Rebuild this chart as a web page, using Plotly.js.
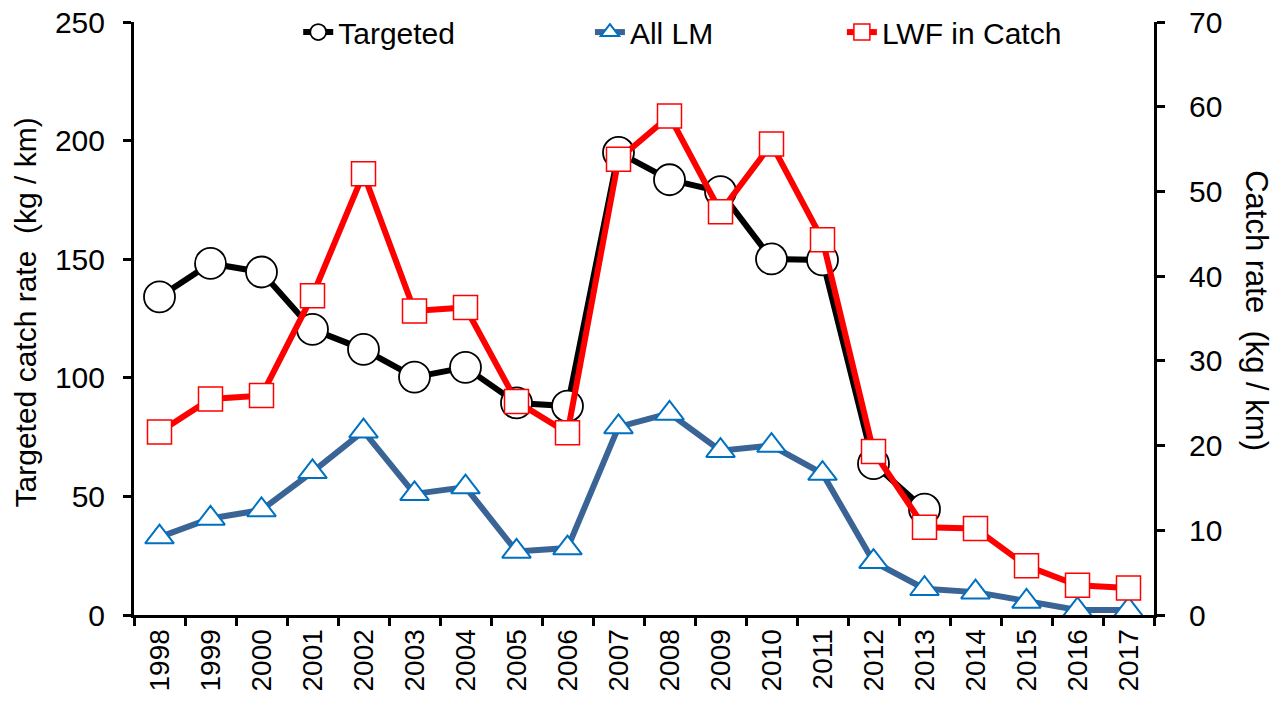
<!DOCTYPE html>
<html>
<head>
<meta charset="utf-8">
<script src="https://cdn.plot.ly/plotly-3.0.1.min.js"></script>
<style>html,body{margin:0;padding:0;background:#fff;}#chart{width:1283px;height:706px;}</style>
</head>
<body>
<div id="chart"></div>
<script>
const years = ["1998","1999","2000","2001","2002","2003","2004","2005","2006","2007","2008","2009","2010","2011","2012","2013","2014","2015","2016","2017"];
const targeted = [134.1,148.2,144.6,120.4,112.0,100.3,104.4,89.4,88.1,195.0,183.5,178.5,150.1,149.7,63.8,44.6,null,null,null,null];
const allLM = [9.2,11.4,12.4,16.9,21.7,14.3,15.1,7.5,7.9,22.2,23.8,19.4,20.0,16.7,6.3,3.1,2.7,1.6,0.6,0.6];
const lwfInCatch = [21.6,25.5,25.9,37.7,52.1,35.9,36.3,25.2,21.5,53.8,58.9,47.6,55.6,44.3,19.3,10.35,10.2,5.8,3.5,3.2];

const FONT = "Liberation Sans, Arial, sans-serif";

const traces = [
  {x: years, y: targeted, name: "Targeted", type: "scatter", mode: "lines+markers",
   yaxis: "y", legend: "legend", cliponaxis: false,
   line: {color: "#000000", width: 6},
   marker: {symbol: "circle", size: 31, color: "#ffffff", line: {color: "#000000", width: 1.8}}},
  {x: years, y: allLM, name: "All LM", type: "scatter", mode: "lines+markers",
   yaxis: "y2", legend: "legend2", cliponaxis: false,
   line: {color: "#3B6496", width: 6},
   marker: {symbol: "triangle-up", size: 25, color: "#ffffff", line: {color: "#0070C0", width: 2}}},
  {x: years, y: lwfInCatch, name: "LWF in Catch", type: "scatter", mode: "lines+markers",
   yaxis: "y2", legend: "legend3", cliponaxis: false,
   line: {color: "#FF0000", width: 6},
   marker: {symbol: "square", size: 24, color: "#ffffff", line: {color: "#FF0000", width: 1.5}}}
];

const legendBase = {orientation: "h", yanchor: "middle", y: 0.983, xanchor: "left",
  bgcolor: "rgba(0,0,0,0)", borderwidth: 0, font: {family: FONT, size: 30, color: "#000"}};

const layout = {
  width: 1283, height: 706,
  margin: {l: 134, r: 129, t: 22, b: 91, autoexpand: false},
  paper_bgcolor: "#ffffff", plot_bgcolor: "#ffffff",
  font: {family: FONT, size: 30, color: "#000"},
  showlegend: true,
  legend: Object.assign({}, legendBase, {x: 0.161}),
  legend2: Object.assign({}, legendBase, {x: 0.447}),
  legend3: Object.assign({}, legendBase, {x: 0.694}),
  xaxis: {type: "category", range: [-0.5, 19.5], tickangle: -90, tickson: "boundaries",
    ticks: "outside", ticklen: 8, tickwidth: 3, tickcolor: "#000",
    showline: true, linecolor: "#000", linewidth: 3, showgrid: false, zeroline: false,
    tickfont: {family: FONT, size: 28, color: "#000"}},
  yaxis: {range: [0, 250], dtick: 50, ticks: "outside", ticklen: 8, tickwidth: 3, tickcolor: "#000",
    showline: true, linecolor: "#000", linewidth: 3, showgrid: false, zeroline: false,
    ticklabelstandoff: 12,
    tickfont: {family: FONT, size: 30, color: "#000"}},
  yaxis2: {range: [0, 70], dtick: 10, overlaying: "y", side: "right", ticks: "outside", ticklen: 8, tickwidth: 3,
    tickcolor: "#000", showline: true, linecolor: "#000", linewidth: 3, showgrid: false, zeroline: false,
    ticklabelstandoff: 18,
    tickfont: {family: FONT, size: 30, color: "#000"}},
  annotations: [
    {text: "Targeted catch rate\u00a0\u00a0(kg / km)", xref: "paper", yref: "paper", x: -0.106, y: 0.51,
     xanchor: "center", yanchor: "middle", textangle: -90, showarrow: false,
     font: {family: FONT, size: 30, color: "#000"}},
    {text: "Catch rate\u00a0\u00a0(kg / km)", xref: "paper", yref: "paper", x: 1.101, y: 0.514,
     xanchor: "center", yanchor: "middle", textangle: 90, showarrow: false,
     font: {family: FONT, size: 31, color: "#000"}}
  ]
};

Plotly.newPlot("chart", traces, layout, {displayModeBar: false, staticPlot: true});
</script>
</body>
</html>
